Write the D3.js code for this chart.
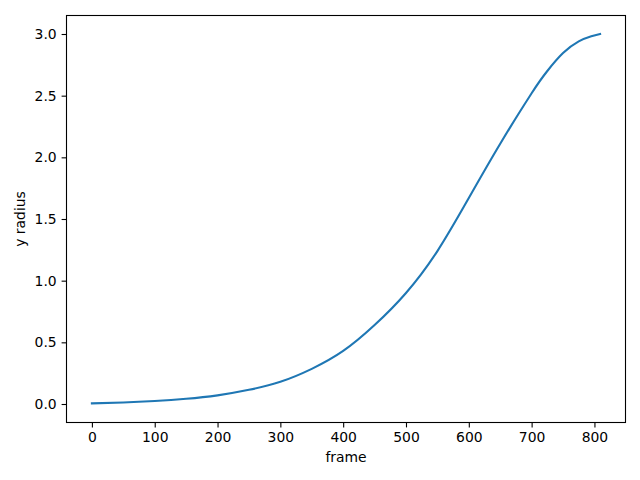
<!DOCTYPE html>
<html>
<head>
<meta charset="utf-8">
<script src="https://cdn.jsdelivr.net/npm/d3@7"></script>
<style>
  body { margin: 0; background: #fff; }
  svg text { font-family: "DejaVu Sans", sans-serif; fill: #000; }
</style>
</head>
<body>
<svg id="chart"></svg>
<script>
// values
var frames = [0, 50, 100, 150, 200, 250, 300, 350, 400, 450, 500, 550, 600, 650, 700, 725, 750, 775, 795, 809];
var radius = [0.005, 0.012, 0.024, 0.042, 0.07, 0.115, 0.18, 0.285, 0.43, 0.64, 0.90, 1.24, 1.67, 2.11, 2.52, 2.70, 2.845, 2.94, 2.982, 3.0];
var xTicks = [0, 100, 200, 300, 400, 500, 600, 700, 800];
var yTicks = [0.0, 0.5, 1.0, 1.5, 2.0, 2.5, 3.0];

var margin = {top: 15.5, right: 14.5, bottom: 57.5, left: 66.5},
    width = 640 - margin.left - margin.right,
    height = 480 - margin.top - margin.bottom;

var data = frames.map(function(f, i) { return {frame: f, r: radius[i]}; });

var svg = d3.select('#chart')
    .attr('width', 640)
    .attr('height', 480);

var chart = svg.append('g')
    .attr('transform', 'translate(' + margin.left + ',' + margin.top + ')');

var xExt = d3.extent(frames), xPad = (xExt[1] - xExt[0]) * 0.05;
var yExt = d3.extent(radius.concat([0, 3])), yPad = (yExt[1] - yExt[0]) * 0.05;

var x = d3.scaleLinear()
    .domain([xExt[0] - xPad, xExt[1] + xPad])
    .range([0, width]);

var y = d3.scaleLinear()
    .domain([yExt[0] - yPad, yExt[1] + yPad])
    .range([height, 0]);

var line = d3.line()
    .curve(d3.curveNatural)
    .x(function(d) { return x(d.frame); })
    .y(function(d) { return y(d.r); });

chart.append('path')
    .datum(data)
    .attr('fill', 'none')
    .attr('stroke', '#1f77b4')
    .attr('stroke-width', 2.1)
    .attr('stroke-linecap', 'square')
    .attr('d', line);

var xAxis = chart.append('g')
    .attr('transform', 'translate(0,' + height + ')')
    .call(d3.axisBottom(x).tickValues(xTicks).tickSize(4.9).tickPadding(4.9).tickSizeOuter(0));

var yAxis = chart.append('g')
    .call(d3.axisLeft(y).tickValues(yTicks).tickFormat(d3.format('.1f')).tickSize(4.9).tickPadding(4.9).tickSizeOuter(0));

[xAxis, yAxis].forEach(function(a) {
    a.select('.domain').remove();
    a.selectAll('line').attr('stroke', '#000').attr('stroke-width', 1.1);
    a.selectAll('text').attr('font-size', '13.9px').attr('font-family', 'DejaVu Sans').attr('fill', '#000');
});

chart.append('rect')
    .attr('width', width)
    .attr('height', height)
    .attr('fill', 'none')
    .attr('stroke', '#000')
    .attr('stroke-width', 1.1);

svg.append('text')
    .attr('x', margin.left + width / 2)
    .attr('y', 462)
    .attr('text-anchor', 'middle')
    .attr('font-size', '13.9px')
    .text('frame');

svg.append('text')
    .attr('transform', 'translate(25,' + (margin.top + height / 2) + ') rotate(-90)')
    .attr('text-anchor', 'middle')
    .attr('font-size', '13.9px')
    .text('y radius');
</script>
</body>
</html>
